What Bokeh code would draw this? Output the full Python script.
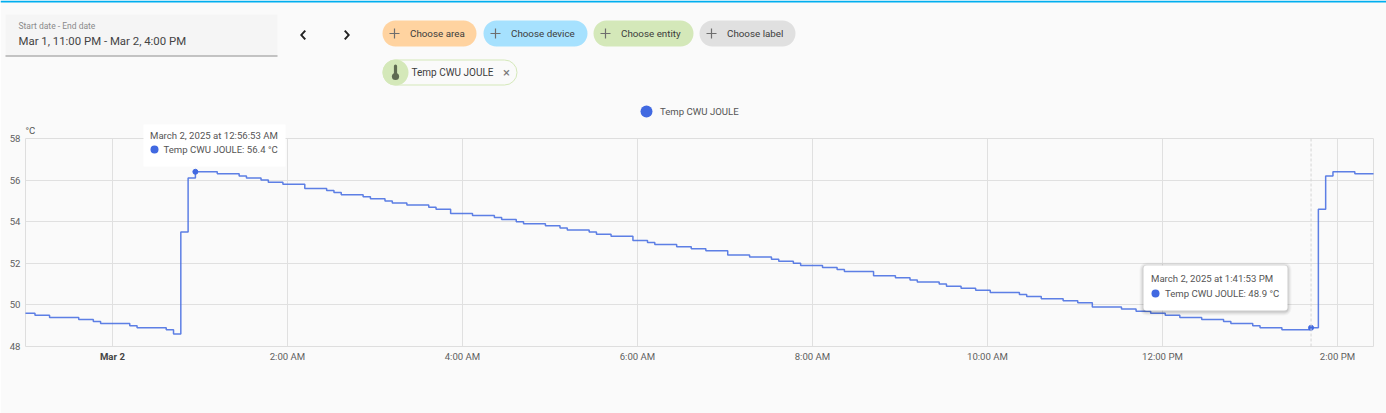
from bokeh.plotting import figure
from bokeh.layouts import column, row
from bokeh.models import (Range1d, FixedTicker, Label, BoxAnnotation, PolyAnnotation, Span)
from bokeh.embed import file_html
from bokeh.resources import INLINE
import pandas as pd

SERIES_NAME = "Temp CWU JOULE"
# minutes relative to midnight of March 2, 2025 at which the reading changed
change_minutes = [-60, -53.1, -43.1, -23.1, -13.1, -8.1, 11.9, 16.9, 36.9, 41.9, 46.9, 51.9, 56.9,
    71.9, 86.9, 91.9, 101.9, 106.9, 116.9, 131.9, 146.9, 151.9, 156.9, 171.9, 176.9, 186.9, 191.9,
    201.9, 216.9, 221.9, 231.9, 246.9, 261.9, 266.9, 276.9, 281.9, 296.9, 306.9, 311.9, 326.9, 331.9,
    341.9, 356.9, 366.9, 371.9, 386.9, 396.9, 406.9, 421.9, 436.9, 451.9, 456.9, 466.9, 471.9, 486.9,
    496.9, 501.9, 521.9, 536.9, 546.9, 551.9, 566.9, 571.9, 581.9, 591.9, 601.9, 621.9, 626.9, 636.9,
    651.9, 661.9, 671.9, 691.9, 701.9, 711.9, 721.9, 731.9, 746.9, 761.9, 766.9, 781.9, 786.9, 801.9,
    821.9, 826.9, 831.9, 836.9, 851.9, 866.9]
temps = [49.6, 49.5, 49.4, 49.3, 49.2, 49.1, 49.0, 48.9, 48.8, 48.6, 53.5, 56.1, 56.4,
    56.3, 56.2, 56.1, 56.0, 55.9, 55.8, 55.6, 55.5, 55.4, 55.3, 55.2, 55.1, 55.0, 54.9,
    54.8, 54.7, 54.6, 54.4, 54.3, 54.2, 54.1, 54.0, 53.9, 53.8, 53.7, 53.6, 53.5, 53.4,
    53.3, 53.1, 53.0, 52.9, 52.8, 52.7, 52.6, 52.4, 52.3, 52.2, 52.1, 52.0, 51.9, 51.8,
    51.7, 51.6, 51.4, 51.3, 51.2, 51.1, 51.0, 50.9, 50.8, 50.7, 50.6, 50.5, 50.4, 50.3,
    50.2, 50.1, 49.9, 49.8, 49.7, 49.6, 49.5, 49.4, 49.3, 49.2, 49.1, 49.0, 48.9, 48.8,
    48.9, 54.6, 56.2, 56.4, 56.3, 56.3]
tip_minutes = [56.88, 821.88]
tip_values = [56.4, 48.9]
tip_dates = ["March 2, 2025 at 12:56:53 AM", "March 2, 2025 at 1:41:53 PM"]
tick_minutes = [0, 120, 240, 360, 480, 600, 720, 840]
tick_labels = ["Mar 2", "2:00 AM", "4:00 AM", "6:00 AM", "8:00 AM", "10:00 AM", "12:00 PM", "2:00 PM"]
y_ticks = [48, 50, 52, 54, 56, 58]
chips = ["Choose area", "Choose device", "Choose entity", "Choose label"]

BASE = pd.Timestamp("2025-03-02").value / 1e6
def ms(m):
    return BASE + m * 60000.0

BG = "#fafafa"
BLUE = "#4169e1"
FONT = "Roboto"
W, H = 1386, 413
X_START, X_END = -59.6, 864.7

p = figure(width=W, height=H, output_backend="svg", toolbar_location=None,
           x_axis_type="datetime",
           x_range=Range1d(ms(X_START), ms(X_END)), y_range=Range1d(48, 58),
           min_border_left=25, min_border_right=13, min_border_top=138, min_border_bottom=67,
           background_fill_color=BG, border_fill_color=BG, outline_line_color="#dedede")

GRID = "#e0e0e0"
p.xgrid.grid_line_color = GRID
p.ygrid.grid_line_color = GRID
p.xgrid.ticker = FixedTicker(ticks=[ms(m) for m in tick_minutes])
p.ygrid.ticker = FixedTicker(ticks=y_ticks)

xa, ya = p.xaxis[0], p.yaxis[0]
xa.ticker = FixedTicker(ticks=[ms(m) for m in tick_minutes])
xa.major_label_overrides = {ms(m): ("\u00a0" if i == 0 else t) for i, (m, t) in enumerate(zip(tick_minutes, tick_labels))}
ya.ticker = FixedTicker(ticks=y_ticks)
for a in (xa, ya):
    a.axis_line_color = None
    a.major_tick_line_color = None
    a.minor_tick_line_color = None
    a.major_tick_out = 0
    a.major_tick_in = 0
    a.minor_tick_out = 0
    a.major_label_text_font = FONT
    a.major_label_text_font_size = "9.6px"
    a.major_label_text_color = "#5f5f5f"
xa.major_label_standoff = 4
ya.major_label_standoff = 5

p.step([ms(m) for m in change_minutes], temps, mode="after", line_color=BLUE, line_width=1.5, line_alpha=0.85)
p.add_layout(Span(location=ms(tip_minutes[1]), dimension="height", line_color="#d5d5d5", line_width=1, line_dash="3 2"))
p.scatter([ms(m) for m in tip_minutes], tip_values, size=5, color=BLUE, marker="circle")

# transparent layer over the chart, its frame covering the whole page, for the page furniture
k = 1348 / (X_END - X_START)
ov = figure(width=W, height=H, output_backend="svg", toolbar_location=None,
            x_range=Range1d(ms(X_START - 25 / k), ms(X_END + 13 / k)), y_range=Range1d(0, H),
            x_axis_location=None, y_axis_location=None,
            min_border_left=0, min_border_right=0, min_border_top=0, min_border_bottom=0,
            background_fill_color=None, border_fill_color=None, outline_line_color=None)
ov.xgrid.visible = False
ov.ygrid.visible = False


def box(l, t, r, b, fill, radius=0, alpha=1.0, line=None):
    ov.add_layout(BoxAnnotation(left=l, right=r, top=t, bottom=b,
                               left_units="canvas", right_units="canvas", top_units="canvas", bottom_units="canvas",
                               fill_color=fill, fill_alpha=alpha, line_color=line, line_alpha=1.0 if line else 0,
                               border_radius=int(round(radius))))

def text(x, y, s, size, color="#444444", style="normal", align="left"):
    ov.add_layout(Label(x=x, y=y, x_units="canvas", y_units="canvas", text=s, text_font=FONT,
                       text_font_size=f"{size}px", text_color=color, text_baseline="middle",
                       text_align=align, text_font_style=style))

def dot(cx, cy, r, fill):
    box(cx - r, cy - r, cx + r, cy + r, fill, radius=r)

def plus(cx, cy):
    box(cx - 5, cy - 0.6, cx + 5, cy + 0.6, "#6e6e6e")
    box(cx - 0.6, cy - 5, cx + 0.6, cy + 5, "#6e6e6e")

def chevron(cx, cy, d):
    xs = [cx + d * 3, cx - d * 1.5, cx + d * 3, cx + d * 4.5, cx + d * 1, cx + d * 4.5]
    xs = [v - d * 1.5 for v in xs]
    ys = [cy - 5, cy, cy + 5, cy + 3.8, cy, cy - 3.8]
    ov.add_layout(PolyAnnotation(xs=xs, ys=ys, xs_units="canvas", ys_units="canvas",
                                fill_color="#222222", fill_alpha=1, line_color=None))

# top accent line
box(0, 0, W, 2, "#00aeef")

# date field
box(5, 14, 277, 55, "#f5f5f5")
box(5, 55, 277, 56, "#8c8c8c")
text(18, 25, "Start date - End date", 8.5, "#8a8a8a")
text(18, 40, "Mar 1, 11:00 PM - Mar 2, 4:00 PM", 11.4, "#444444")
chevron(302.5, 34.5, 1)
chevron(346.5, 34.5, -1)

# filter chips
chip_boxes = [(382, 476, "#ffd3a0", 394, 409.5), (483, 587, "#a6e1fe", 495, 510.5),
              (593, 693, "#d4e8b9", 605, 620.5), (699, 795, "#e0e0e0", 711, 726.5)]
for name, (l, r, c, px, tx) in zip(chips, chip_boxes):
    box(l, 20, r, 46, c, radius=13)
    plus(px, 33)
    text(tx, 33, name, 9.8, "#3c3c3c")

box(382.5, 59.5, 516.5, 84.5, BG, radius=13, line="#d4e8b9")
dot(395, 72, 13, "#d4e8b9")
box(393.4, 64, 396.6, 76, "#5f6b52", radius=2)
dot(395, 76, 3.6, "#5f6b52")
text(411, 71.5, SERIES_NAME, 10, "#3c3c3c")
text(506, 71.5, "\u00d7", 13, "#777777", align="center")

# legend and unit
dot(646, 111, 6, BLUE)
text(659.5, 111, SERIES_NAME, 9.6, "#555555")
text(25, 130, "\u00b0C", 9.6, "#555555")
ov.add_layout(Label(x=ms(tick_minutes[0]), y=356, y_units="canvas", text=tick_labels[0], text_font=FONT,
                   text_font_size="9.6px", text_font_style="bold", text_color="#444444",
                   text_align="center", text_baseline="middle"))

# first tooltip
box(143, 124, 285, 166, "#ffffff")
text(149.5, 135, tip_dates[0], 9.6, "#555555")
dot(154, 149, 4, BLUE)
text(163, 149, f"{SERIES_NAME}: {tip_values[0]} \u00b0C", 9.6, "#555555")

# second tooltip, with a soft shadow
for grow, a in ((4, 0.03), (3, 0.04), (2, 0.05), (1, 0.07)):
    box(1143 - grow, 265 - grow + 1, 1287 + grow, 310 + grow + 1, "#000000", radius=3 + grow, alpha=a)
box(1143, 265, 1287, 310, "#ffffff", radius=3)
text(1150.5, 278, tip_dates[1], 9.6, "#555555")
dot(1155, 293, 4, BLUE)
text(1164.5, 293, f"{SERIES_NAME}: {tip_values[1]} \u00b0C", 9.6, "#555555")

layer = row(ov, styles={"margin-top": f"-{H}px"})
open("out.html", "w").write(file_html(column(p, layer, spacing=0), INLINE))
